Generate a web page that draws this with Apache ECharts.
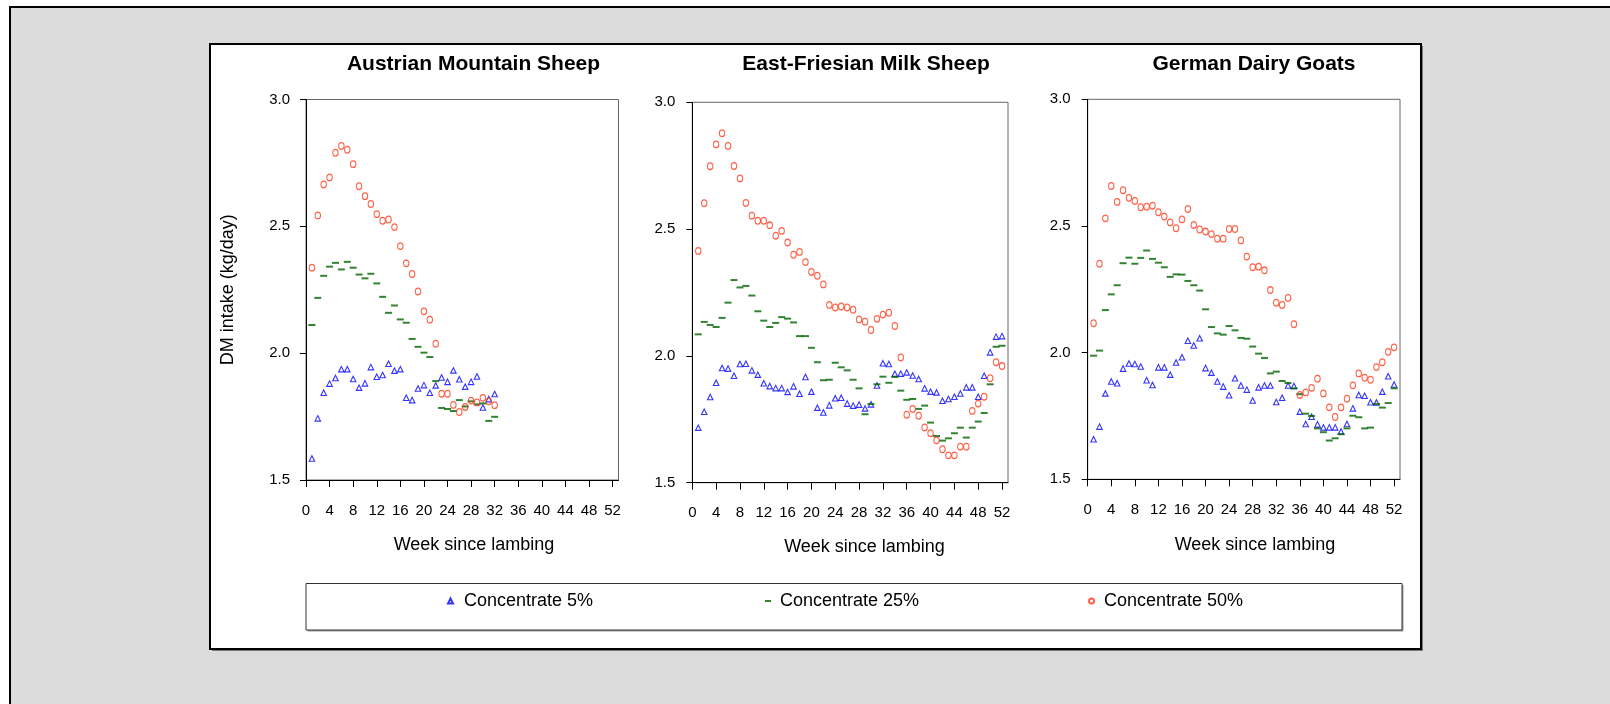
<!DOCTYPE html>
<html>
<head>
<meta charset="utf-8">
<script src="https://cdn.jsdelivr.net/npm/echarts@6/dist/echarts.min.js"></script>
<style>
html,body{margin:0;padding:0;background:#fff;}
#c{width:1610px;height:704px;}
</style>
</head>
<body>
<div id="c"></div>
<script>
// ---------- data ----------
const panelTitles = ['Austrian Mountain Sheep', 'East-Friesian Milk Sheep', 'German Dairy Goats'];
const seriesNames = ['Concentrate 5%', 'Concentrate 25%', 'Concentrate 50%'];
const xAxisTitle = 'Week since lambing';
const yAxisTitle = 'DM intake (kg/day)';
const xTicks = [0, 4, 8, 12, 16, 20, 24, 28, 32, 36, 40, 44, 48, 52];
const yTicks = [1.5, 2.0, 2.5, 3.0];

const weeksAMS = [1,2,3,4,5,6,7,8,9,10,11,12,13,14,15,16,17,18,19,20,21,22,23,24,25,26,27,28,29,30,31,32];
const weeksEFM = [1,2,3,4,5,6,7,8,9,10,11,12,13,14,15,16,17,18,19,20,21,22,23,24,25,26,27,28,29,30,31,32,33,34,35,36,37,38,39,40,41,42,43,44,45,46,47,48,49,50,51,52];
const weeksGDG = [1,2,3,4,5,6,7,8,9,10,11,12,13,14,15,16,17,18,19,20,21,22,23,24,25,26,27,28,29,30,31,32,33,34,35,36,37,38,39,40,41,42,43,44,45,46,47,48,49,50,51,52];

// Austrian Mountain Sheep
const ams5  = [1.585,1.743,1.844,1.880,1.902,1.937,1.937,1.898,1.864,1.881,1.945,1.907,1.914,1.958,1.931,1.937,1.824,1.815,1.861,1.874,1.844,1.873,1.904,1.887,1.932,1.897,1.868,1.887,1.908,1.786,1.819,1.839];
const ams25 = [2.111,2.218,2.305,2.341,2.356,2.330,2.360,2.337,2.310,2.295,2.313,2.275,2.222,2.159,2.188,2.133,2.120,2.056,2.025,2.002,1.985,1.890,1.784,1.780,1.772,1.815,1.790,1.810,1.798,1.802,1.733,1.749];
const ams50 = [2.337,2.543,2.665,2.693,2.790,2.817,2.802,2.745,2.658,2.619,2.588,2.548,2.522,2.527,2.497,2.422,2.354,2.312,2.243,2.165,2.132,2.037,1.840,1.840,1.796,1.768,1.788,1.813,1.806,1.824,1.810,1.795];

// East-Friesian Milk Sheep
const efm5  = [1.717,1.780,1.838,1.894,1.952,1.950,1.922,1.968,1.969,1.943,1.926,1.892,1.881,1.873,1.873,1.858,1.880,1.851,1.917,1.859,1.796,1.777,1.805,1.833,1.835,1.812,1.804,1.808,1.793,1.809,1.883,1.971,1.968,1.930,1.930,1.935,1.923,1.909,1.872,1.859,1.856,1.823,1.830,1.839,1.852,1.876,1.876,1.839,1.922,2.014,2.076,2.078];
const efm25 = [2.085,2.134,2.122,2.114,2.150,2.210,2.299,2.270,2.276,2.238,2.176,2.139,2.114,2.130,2.153,2.147,2.132,2.078,2.078,2.032,1.975,1.904,1.906,1.973,1.955,1.943,1.906,1.872,1.770,1.810,1.888,1.918,1.894,1.917,1.863,1.827,1.830,1.791,1.804,1.737,1.684,1.666,1.675,1.695,1.717,1.678,1.717,1.741,1.775,1.888,2.036,2.040];
const efm50 = [2.414,2.602,2.748,2.834,2.878,2.828,2.749,2.700,2.603,2.553,2.533,2.533,2.515,2.474,2.493,2.447,2.399,2.410,2.370,2.331,2.316,2.282,2.201,2.191,2.195,2.191,2.182,2.144,2.135,2.102,2.146,2.163,2.170,2.118,1.994,1.768,1.791,1.764,1.718,1.695,1.667,1.632,1.608,1.608,1.642,1.642,1.783,1.812,1.839,1.912,1.975,1.960];

// German Dairy Goats
const gdg5  = [1.658,1.708,1.839,1.886,1.879,1.937,1.957,1.955,1.945,1.891,1.872,1.942,1.942,1.913,1.961,1.982,2.047,2.028,2.057,1.939,1.921,1.886,1.866,1.832,1.899,1.870,1.854,1.811,1.863,1.870,1.870,1.805,1.822,1.870,1.868,1.767,1.718,1.747,1.717,1.705,1.705,1.705,1.689,1.718,1.780,1.833,1.830,1.804,1.803,1.846,1.907,1.874];
const gdg25 = [1.988,2.008,2.168,2.230,2.266,2.353,2.375,2.351,2.374,2.403,2.370,2.355,2.337,2.299,2.309,2.308,2.283,2.266,2.245,2.171,2.101,2.076,2.071,2.105,2.088,2.058,2.055,2.024,1.996,1.979,1.918,1.925,1.888,1.880,1.859,1.836,1.759,1.750,1.701,1.686,1.653,1.662,1.678,1.701,1.751,1.745,1.701,1.704,1.797,1.783,1.801,1.859];
const gdg50 = [2.116,2.351,2.530,2.658,2.595,2.641,2.611,2.599,2.574,2.576,2.580,2.554,2.537,2.514,2.491,2.526,2.567,2.504,2.486,2.478,2.468,2.450,2.450,2.488,2.488,2.443,2.379,2.337,2.339,2.325,2.247,2.197,2.188,2.216,2.112,1.833,1.843,1.861,1.897,1.839,1.784,1.746,1.784,1.818,1.871,1.918,1.901,1.893,1.943,1.962,2.003,2.021];

// ---------- layout / styles ----------
const FONT = 'Liberation Sans, Arial, sans-serif';
const grids = [
  {left: 306,   top: 99.5,  width: 312.5, height: 380.5},
  {left: 692.3, top: 102.3, width: 315.7, height: 380.4},
  {left: 1087.7,top: 99.3,  width: 312.3, height: 380}
];
const titlePos = [[473.5, 64], [866, 64], [1254, 64]];
const xNamePos = [[474, 545], [864.5, 547], [1255, 545]];
const yLabelMargin = [16, 17, 17];

const panels = [
  {weeks: weeksAMS, vals: [ams5, ams25, ams50]},
  {weeks: weeksEFM, vals: [efm5, efm25, efm50]},
  {weeks: weeksGDG, vals: [gdg5, gdg25, gdg50]}
];

const seriesStyles = [
  {symbol: 'triangle', symbolSize: [5.5, 5.5], itemStyle: {color: 'rgba(0,0,0,0)', borderColor: '#0000ff', borderWidth: 1.1}},
  {symbol: 'rect', symbolSize: [7, 2], itemStyle: {color: '#006400'}},
  {symbol: 'circle', symbolSize: [5.4, 6.6], itemStyle: {color: 'rgba(0,0,0,0)', borderColor: '#ff3a1a', borderWidth: 1.15}}
];

const series = [];
panels.forEach((p, gi) => {
  p.vals.forEach((vals, si) => {
    const st = seriesStyles[si];
    series.push({
      type: 'scatter',
      name: seriesNames[si],
      xAxisIndex: gi,
      yAxisIndex: gi,
      symbol: st.symbol,
      symbolSize: st.symbolSize,
      itemStyle: st.itemStyle,
      z: 3 + si,
      data: p.weeks.map((w, k) => [w, vals[k]])
    });
  });
});

const xAxes = grids.map((g, i) => ({
  gridIndex: i,
  type: 'value',
  min: 0,
  max: 53,
  interval: 4,
  axisLine: {show: true, onZero: false, lineStyle: {color: '#000', width: 1}},
  axisTick: {show: true, length: 7, customValues: xTicks, lineStyle: {color: '#000'}},
  axisLabel: {customValues: xTicks, margin: 23, fontSize: 15, color: '#000', fontFamily: FONT},
  splitLine: {show: false}
}));

const yAxes = grids.map((g, i) => ({
  gridIndex: i,
  type: 'value',
  min: 1.5,
  max: 3.0,
  interval: 0.5,
  name: i === 0 ? yAxisTitle : '',
  nameLocation: 'middle',
  nameRotate: 90,
  nameGap: 69,
  nameTextStyle: {fontSize: 18, color: '#000', fontFamily: FONT},
  axisLine: {show: true, onZero: false, lineStyle: {color: '#000', width: 1}},
  axisTick: {show: true, length: 6, customValues: yTicks, lineStyle: {color: '#000'}},
  axisLabel: {customValues: yTicks, margin: yLabelMargin[i], fontSize: 15, color: '#000', fontFamily: FONT,
              formatter: v => Number(v).toFixed(1)},
  splitLine: {show: false}
}));

const gridOpts = grids.map(g => Object.assign({
  show: true, borderColor: '#666', borderWidth: 1, backgroundColor: 'rgba(0,0,0,0)',
  containLabel: false, outerBoundsMode: 'none'
}, g));

const graphics = [
  // outer gray area
  {type: 'rect', z: -100, shape: {x: 10, y: 7, width: 1600, height: 697}, style: {fill: '#dcdcdc'}},
  {type: 'line', z: -99, shape: {x1: 9, y1: 7, x2: 1610, y2: 7}, style: {stroke: '#000', lineWidth: 2}},
  {type: 'line', z: -99, shape: {x1: 10, y1: 6, x2: 10, y2: 704}, style: {stroke: '#000', lineWidth: 2}},
  // white inner panel with shadow
  {type: 'rect', z: -98, shape: {x: 212, y: 46, width: 1211, height: 605}, style: {fill: '#7a7a7a'}},
  {type: 'rect', z: -97, shape: {x: 210, y: 44, width: 1211, height: 605}, style: {fill: '#fff', stroke: '#000', lineWidth: 2}},
  // legend frame
  {type: 'rect', z: -96, shape: {x: 307.5, y: 585, width: 1096, height: 46.5}, style: {fill: '#9a9a9a'}},
  {type: 'rect', z: -95, shape: {x: 306, y: 583.5, width: 1096, height: 46.5}, style: {fill: '#fff', stroke: '#333', lineWidth: 1}}
];
panelTitles.forEach((t, i) => {
  graphics.push({type: 'text', z: 50, x: titlePos[i][0], y: titlePos[i][1],
    style: {text: t, fontSize: 21, fontWeight: 'bold', fontFamily: FONT, fill: '#000', textAlign: 'center', textVerticalAlign: 'middle'}});
  graphics.push({type: 'text', z: 50, x: xNamePos[i][0], y: xNamePos[i][1],
    style: {text: xAxisTitle, fontSize: 18, fontFamily: FONT, fill: '#000', textAlign: 'center', textVerticalAlign: 'middle'}});
});

const legendBase = {top: 592, orient: 'horizontal', selectedMode: false, padding: 0};
const legendText = pad => ({fontSize: 18, color: '#000', fontFamily: FONT, padding: [0, 0, 0, pad]});
const legends = [
  Object.assign({}, legendBase, {data: [seriesNames[0]], left: 447, itemWidth: 5, itemHeight: 5, textStyle: legendText(6)}),
  Object.assign({}, legendBase, {data: [seriesNames[1]], left: 765, itemWidth: 6, itemHeight: 2, textStyle: legendText(4)}),
  Object.assign({}, legendBase, {data: [seriesNames[2]], left: 1088, itemWidth: 5, itemHeight: 6, textStyle: legendText(5)})
];

const chart = echarts.init(document.getElementById('c'), null, {renderer: 'canvas'});
chart.setOption({
  animation: false,
  backgroundColor: '#fff',
  textStyle: {fontFamily: FONT},
  graphic: {elements: graphics},
  legend: legends,
  grid: gridOpts,
  xAxis: xAxes,
  yAxis: yAxes,
  series: series
});
</script>
</body>
</html>
